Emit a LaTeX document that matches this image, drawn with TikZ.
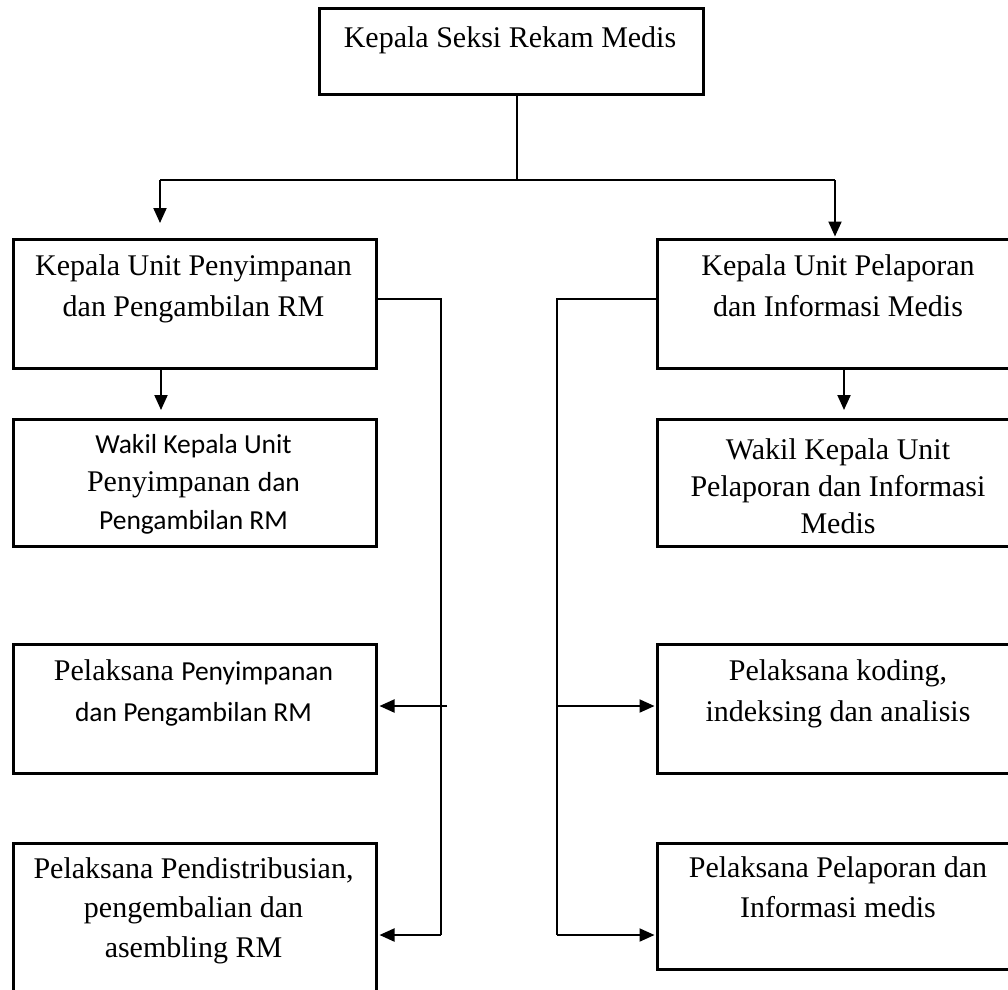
\documentclass[tikz,border=0pt]{standalone}
\usepackage{fontspec}
\setmainfont{Liberation Serif}
\newfontfamily\calfont{Carlito}
\usetikzlibrary{arrows.meta,calc}
\begin{document}
\begin{tikzpicture}[x=1pt,y=-1pt,
  box/.style={draw, line width=3pt, rectangle, anchor=north west, inner sep=0pt},
  txt/.style={anchor=north, inner sep=0pt, align=center, font=\fontsize{30}{41}\selectfont},
  link/.style={line width=2pt},
  arr/.style={line width=2pt, -{Triangle[length=15pt,width=13pt]}}
]
\useasboundingbox (0,0) rectangle (1008,989);
\clip (0,0) rectangle (1008,989);
\fill[white] (0,0) rectangle (1008,989);

% boxes
\node[box, minimum width=384pt, minimum height=86pt] (top) at (318,7) {};
\node[box, minimum width=363pt, minimum height=129pt] (L1) at (12,238) {};
\node[box, minimum width=363pt, minimum height=127pt] (L2) at (12,418) {};
\node[box, minimum width=363pt, minimum height=129pt] (L3) at (12,643) {};
\node[box, minimum width=363pt, minimum height=165pt] (L4) at (12,842) {};
\node[box, minimum width=370pt, minimum height=129pt] (R1) at (656,238) {};
\node[box, minimum width=370pt, minimum height=127pt] (R2) at (656,418) {};
\node[box, minimum width=370pt, minimum height=129pt] (R3) at (656,643) {};
\node[box, minimum width=370pt, minimum height=126pt] (R4) at (656,842) {};

% texts
\node[txt] (tTop) at (510,26) {Kepala Seksi Rekam Medis};
\node[txt] (tL1) at (193.5,254) {Kepala Unit Penyimpanan\\dan Pengambilan RM};
\node[txt, font=\fontsize{30}{38}\selectfont] (tL2) at (193.5,434) {{\calfont\fontsize{27.5}{38}\selectfont Wakil Kepala Unit}\\Penyimpanan {\calfont\fontsize{27.5}{38}\selectfont dan}\\{\calfont\fontsize{27.5}{38}\selectfont Pengambilan RM}};
\node[txt] (tL3) at (193.5,659.5) {Pelaksana {\calfont\fontsize{27.5}{41}\selectfont Penyimpanan}\\{\calfont\fontsize{27.5}{41}\selectfont dan Pengambilan RM}};
\node[txt, font=\fontsize{30}{39.5}\selectfont] (tL4) at (193.5,857) {Pelaksana Pendistribusian,\\pengembalian dan\\asembling RM};
\node[txt] (tR1) at (838,254) {Kepala Unit Pelaporan\\dan Informasi Medis};
\node[txt, font=\fontsize{30}{37}\selectfont] (tR2) at (838,438) {Wakil Kepala Unit\\Pelaporan dan Informasi\\Medis};
\node[txt] (tR3) at (838,659.5) {Pelaksana koding,\\indeksing dan analisis};
\node[txt, font=\fontsize{30}{40}\selectfont] (tR4) at (838,856) {Pelaksana Pelaporan dan\\Informasi medis};

% top connectors
\coordinate (j) at (517,180);
\coordinate (hl) at (160,180);
\coordinate (hr) at (835,180);
\draw[link] (top.south -| j) -- (j);
\draw[link] (hl) -- (hr);
\draw[arr, shorten >=15pt] (hl) -- (hl |- L1.north);
\draw[arr, shorten >=1.5pt] (hr) -- (hr |- R1.north);

% down arrows
\coordinate (ld) at (161,0);
\coordinate (rd) at (844,0);
\draw[arr, shorten >=8pt] (ld |- L1.south) -- (ld |- L2.north);
\draw[arr, shorten >=8pt] (rd |- R1.south) -- (rd |- R2.north);

% left bus
\coordinate (lb1) at (441,299);
\coordinate (lb2) at (441,935);
\coordinate (lb3) at (447,706);
\draw[link] (L1.east |- lb1) -- (lb1) -- (lb2);
\draw[arr, shorten >=1.5pt] (lb2) -- (L4.east |- lb2);
\draw[arr, shorten >=1.5pt] (lb3) -- (L3.east |- lb3);

% right bus
\coordinate (rb1) at (557,299);
\coordinate (rb2) at (557,935);
\coordinate (rb3) at (557,706);
\draw[link] (R1.west |- rb1) -- (rb1) -- (rb2);
\draw[arr, shorten >=1.5pt] (rb2) -- (R4.west |- rb2);
\draw[arr, shorten >=1.5pt] (rb3) -- (R3.west |- rb3);
\end{tikzpicture}
\end{document}
